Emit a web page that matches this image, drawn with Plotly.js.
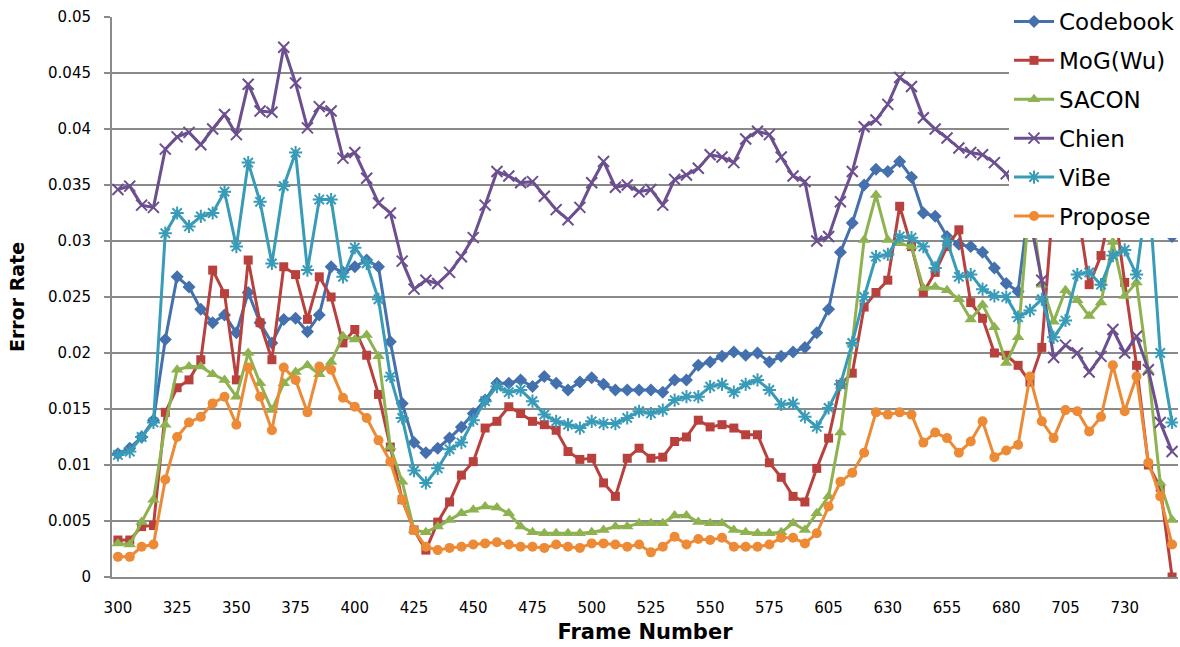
<!DOCTYPE html>
<html>
<head>
<meta charset="utf-8">
<script src="https://cdn.plot.ly/plotly-3.0.1.min.js"></script>
<style>
html,body{margin:0;padding:0;background:#fff;}
#chart{width:1180px;height:647px;}
</style>
</head>
<body>
<div id="chart"></div>
<script>
const frames = [300,305,310,315,320,325,330,335,340,345,
  350,355,360,365,370,375,380,385,390,395,
  400,405,410,415,420,425,430,435,440,445,
  450,455,460,465,470,475,480,485,490,495,
  500,505,510,515,520,525,530,535,540,545,
  550,555,560,565,570,575,580,585,590,595,
  605,610,615,620,625,630,635,640,645,650,
  655,660,665,670,675,680,685,690,695,700,
  705,710,715,720,725,730,735,740,745,750];

const xTickLabels = [300,325,350,375,400,425,450,475,500,525,550,575,605,630,655,680,705,730];
const yTickValues = [0,0.005,0.01,0.015,0.02,0.025,0.03,0.035,0.04,0.045,0.05];
const yTickLabels = ["0","0.005","0.01","0.015","0.02","0.025","0.03","0.035","0.04","0.045","0.05"];

const codebook = [0.0110,0.0115,0.0125,0.0140,0.0212,0.0268,0.0259,0.0239,0.0227,0.0234,
  0.0218,0.0254,0.0227,0.0209,0.0230,0.0231,0.0219,0.0234,0.0277,0.0272,
  0.0277,0.0283,0.0277,0.0210,0.0155,0.0120,0.0111,0.0115,0.0124,0.0134,
  0.0146,0.0158,0.0173,0.0173,0.0176,0.0170,0.0179,0.0173,0.0167,0.0174,
  0.0178,0.0172,0.0167,0.0167,0.0167,0.0167,0.0165,0.0176,0.0176,0.0189,
  0.0192,0.0197,0.0201,0.0198,0.0200,0.0192,0.0197,0.0201,0.0205,0.0218,
  0.0239,0.0290,0.0316,0.0350,0.0364,0.0362,0.0371,0.0357,0.0325,0.0322,
  0.0304,0.0297,0.0295,0.0290,0.0276,0.0262,0.0255,0.0340,0.0360,0.0370,
  0.0380,0.0370,0.0360,0.0370,0.0380,0.0370,0.0350,0.0330,0.0320,0.0304];

const mogWu = [0.0033,0.0033,0.0045,0.0046,0.0147,0.0169,0.0176,0.0194,0.0274,0.0253,
  0.0176,0.0283,0.0227,0.0194,0.0277,0.0270,0.0230,0.0268,0.0250,0.0209,
  0.0221,0.0198,0.0163,0.0116,0.0069,0.0042,0.0024,0.0049,0.0067,0.0091,
  0.0103,0.0133,0.0139,0.0152,0.0146,0.0139,0.0136,0.0131,0.0112,0.0105,
  0.0106,0.0084,0.0072,0.0106,0.0115,0.0106,0.0107,0.0121,0.0125,0.0140,
  0.0134,0.0136,0.0133,0.0127,0.0127,0.0102,0.0089,0.0072,0.0067,0.0097,
  0.0124,0.0172,0.0182,0.0241,0.0254,0.0265,0.0331,0.0295,0.0254,0.0272,
  0.0295,0.0310,0.0245,0.0231,0.0200,0.0198,0.0189,0.0174,0.0205,0.0340,
  0.0350,0.0330,0.0261,0.0287,0.0340,0.0263,0.0189,0.0100,0.0080,0.0000];

const sacon = [0.0030,0.0029,0.0049,0.0069,0.0136,0.0185,0.0188,0.0188,0.0181,0.0176,
  0.0161,0.0200,0.0173,0.0149,0.0173,0.0183,0.0189,0.0181,0.0192,0.0215,
  0.0212,0.0216,0.0197,0.0116,0.0085,0.0042,0.0040,0.0045,0.0051,0.0057,
  0.0060,0.0063,0.0062,0.0057,0.0045,0.0040,0.0039,0.0039,0.0039,0.0039,
  0.0040,0.0042,0.0045,0.0045,0.0048,0.0048,0.0048,0.0055,0.0055,0.0049,
  0.0048,0.0048,0.0042,0.0040,0.0039,0.0039,0.0040,0.0048,0.0042,0.0057,
  0.0072,0.0129,0.0209,0.0301,0.0341,0.0301,0.0298,0.0295,0.0258,0.0259,
  0.0256,0.0248,0.0230,0.0243,0.0223,0.0191,0.0214,0.0340,0.0261,0.0228,
  0.0256,0.0247,0.0233,0.0245,0.0299,0.0251,0.0263,0.0184,0.0084,0.0051];

const chien = [0.0346,0.0349,0.0332,0.0330,0.0382,0.0393,0.0397,0.0386,0.0400,0.0413,
  0.0395,0.0440,0.0416,0.0415,0.0473,0.0441,0.0401,0.0420,0.0416,0.0374,
  0.0379,0.0356,0.0334,0.0325,0.0282,0.0257,0.0265,0.0262,0.0272,0.0286,
  0.0303,0.0332,0.0362,0.0358,0.0352,0.0353,0.0340,0.0328,0.0319,0.0330,
  0.0352,0.0371,0.0348,0.0350,0.0344,0.0346,0.0332,0.0355,0.0359,0.0365,
  0.0377,0.0375,0.0370,0.0391,0.0398,0.0395,0.0375,0.0358,0.0353,0.0300,
  0.0304,0.0335,0.0362,0.0402,0.0408,0.0422,0.0446,0.0438,0.0410,0.0400,
  0.0392,0.0383,0.0379,0.0377,0.0370,0.0360,0.0340,0.0320,0.0265,0.0196,
  0.0207,0.0200,0.0183,0.0197,0.0221,0.0200,0.0215,0.0185,0.0138,0.0112];

const vibe = [0.0109,0.0112,0.0125,0.0138,0.0307,0.0325,0.0313,0.0322,0.0325,0.0344,
  0.0295,0.0370,0.0335,0.0280,0.0349,0.0379,0.0274,0.0337,0.0337,0.0268,
  0.0294,0.0280,0.0248,0.0179,0.0142,0.0095,0.0084,0.0097,0.0114,0.0120,
  0.0140,0.0157,0.0170,0.0165,0.0167,0.0157,0.0145,0.0139,0.0136,0.0133,
  0.0139,0.0137,0.0137,0.0142,0.0148,0.0146,0.0149,0.0158,0.0161,0.0161,
  0.0170,0.0172,0.0165,0.0172,0.0176,0.0167,0.0154,0.0155,0.0143,0.0134,
  0.0151,0.0172,0.0209,0.0250,0.0286,0.0288,0.0304,0.0303,0.0295,0.0276,
  0.0300,0.0268,0.0270,0.0257,0.0251,0.0250,0.0232,0.0238,0.0248,0.0214,
  0.0229,0.0270,0.0272,0.0261,0.0287,0.0292,0.0270,0.0350,0.0200,0.0138];

const propose = [0.0018,0.0018,0.0027,0.0029,0.0087,0.0125,0.0138,0.0143,0.0155,0.0161,
  0.0136,0.0187,0.0161,0.0131,0.0187,0.0176,0.0147,0.0188,0.0185,0.0160,
  0.0152,0.0142,0.0122,0.0103,0.0069,0.0042,0.0027,0.0024,0.0026,0.0027,
  0.0029,0.0030,0.0031,0.0029,0.0027,0.0027,0.0026,0.0029,0.0027,0.0026,
  0.0030,0.0030,0.0029,0.0027,0.0029,0.0022,0.0027,0.0036,0.0029,0.0034,
  0.0033,0.0035,0.0027,0.0027,0.0027,0.0029,0.0035,0.0035,0.0030,0.0039,
  0.0063,0.0085,0.0093,0.0111,0.0147,0.0145,0.0147,0.0145,0.0120,0.0129,
  0.0124,0.0111,0.0121,0.0139,0.0107,0.0113,0.0118,0.0179,0.0139,0.0124,
  0.0149,0.0148,0.0130,0.0143,0.0189,0.0148,0.0179,0.0102,0.0072,0.0029];

const xCats = frames.map(String);

function series(name, y, color, symbol, size, open) {
  const marker = open
    ? {symbol: symbol, size: size, color: color, line: {color: color, width: 2}}
    : {symbol: symbol, size: size, color: color, line: {width: 0}};
  return {
    type: 'scatter', mode: 'lines+markers', name: name, legendgroup: name,
    x: xCats, y: y,
    line: {color: color, width: 3},
    marker: marker
  };
}

const traces = [
  series('Codebook', codebook, '#4470AE', 'diamond', 10, false),
  series('MoG(Wu)', mogWu, '#B8413E', 'square', 9, false),
  series('SACON', sacon, '#8DB24F', 'triangle-up', 11, false),
  series('Chien', chien, '#6B4F8F', 'x-thin', 11, true),
  series('ViBe', vibe, '#389BB8', 'asterisk', 11, true),
  series('Propose', propose, '#EC8A35', 'circle', 10, false)
];

const axisColor = '#8a8a8a';
const layout = {
  width: 1180, height: 647,
  margin: {l: 112, r: 2, t: 17, b: 70, autoexpand: false},
  paper_bgcolor: '#ffffff', plot_bgcolor: '#ffffff',
  font: {family: 'DejaVu Sans', size: 15, color: '#000'},
  showlegend: true,
  legend: {
    xref: 'container', yref: 'container',
    x: 1, xanchor: 'right', y: 1, yanchor: 'top',
    bgcolor: '#ffffff', borderwidth: 0,
    font: {family: 'DejaVu Sans', size: 23, color: '#000'},
    itemwidth: 40, traceorder: 'grouped', tracegroupgap: 6
  },
  xaxis: {
    type: 'category', range: [-0.5, 89.5],
    tickmode: 'array', tickvals: xTickLabels.map(String), ticktext: xTickLabels.map(String),
    showgrid: false, zeroline: false,
    showline: true, linecolor: axisColor, linewidth: 2,
    ticks: '', ticklabelstandoff: 16,
    tickfont: {family: 'DejaVu Sans', size: 15, color: '#000'},
    title: {text: 'Frame Number', font: {family: 'DejaVu Sans', size: 21, color: '#000', weight: 'bold'}, standoff: 8},
    automargin: false, fixedrange: true
  },
  yaxis: {
    range: [0, 0.05],
    tickmode: 'array', tickvals: yTickValues, ticktext: yTickLabels,
    showgrid: true, gridcolor: axisColor, gridwidth: 1.6,
    zeroline: false,
    showline: true, linecolor: axisColor, linewidth: 2,
    ticks: 'outside', ticklen: 6, tickcolor: axisColor, tickwidth: 1.6,
    ticklabelstandoff: 10,
    tickfont: {family: 'DejaVu Sans', size: 15, color: '#000'},
    title: {text: 'Error Rate', font: {family: 'DejaVu Sans', size: 19, color: '#000', weight: 'bold'}, standoff: 18},
    automargin: false, fixedrange: true
  }
};

Plotly.newPlot('chart', traces, layout, {displayModeBar: false, staticPlot: true});
</script>
</body>
</html>
